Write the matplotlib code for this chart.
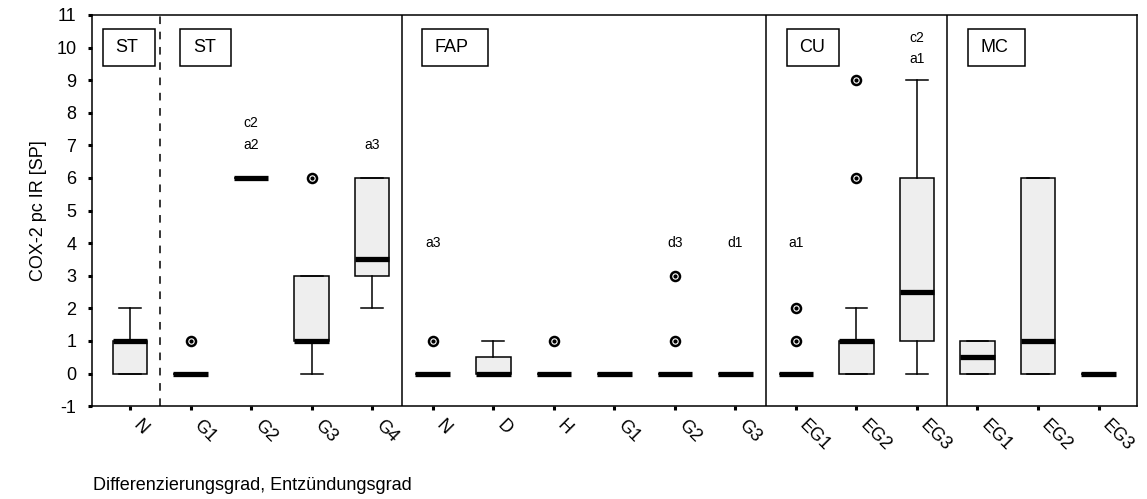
import matplotlib
matplotlib.use("Agg")
import matplotlib.pyplot as plt
from matplotlib.patches import Rectangle

plt.rcParams["font.family"] = ["Liberation Sans", "DejaVu Sans"]
plt.rcParams["axes.unicode_minus"] = False

# categories (x tick labels), left to right
LABELS = ["N", "G1", "G2", "G3", "G4",
          "N", "D", "H", "G1", "G2", "G3",
          "EG1", "EG2", "EG3",
          "EG1", "EG2", "EG3"]

# box statistics
Q1 = [0, 0, 6, 1, 3, 0, 0, 0, 0, 0, 0, 0, 0, 1, 0, 0, 0]
MED = [1, 0, 6, 1, 3.5, 0, 0, 0, 0, 0, 0, 0, 1, 2.5, 0.5, 1, 0]
Q3 = [1, 0, 6, 3, 6, 0, 0.5, 0, 0, 0, 0, 0, 1, 6, 1, 6, 0]
WHIS_LO = [0, 0, 6, 0, 2, 0, 0, 0, 0, 0, 0, 0, 0, 0, 0, 0, 0]
WHIS_HI = [2, 0, 6, 3, 6, 0, 1, 0, 0, 0, 0, 0, 2, 9, 1, 6, 0]
OUTLIERS = [[], [1], [], [6], [], [1], [], [1], [], [1, 3], [], [1, 2], [6, 9], [], [], [], []]

# significance notes: (category index, y value, text)
NOTES = [(2, 7.7, "c2"), (2, 7.0, "a2"), (4, 7.0, "a3"),
         (5, 4.0, "a3"), (9, 4.0, "d3"), (10, 4.0, "d1"),
         (11, 4.0, "a1"), (13, 10.3, "c2"), (13, 9.65, "a1")]

# group tags: (text, left x, right x)
GROUPS = [("ST", -0.45, 0.42), ("ST", 0.83, 1.66), ("FAP", 4.82, 5.91),
          ("CU", 10.85, 11.72), ("MC", 13.84, 14.78)]

SOLID_SEPS = [4.5, 10.5, 13.5]
DASHED_SEPS = [0.5]

fig = plt.figure(figsize=(11.47, 4.99), dpi=100)
ax = fig.add_axes([0.08, 0.186, 0.911, 0.784])

pos = list(range(len(LABELS)))
stats = []
for i in pos:
    stats.append(dict(q1=Q1[i], med=MED[i], q3=Q3[i], whislo=WHIS_LO[i],
                      whishi=WHIS_HI[i], fliers=OUTLIERS[i]))

ax.bxp(stats, positions=pos, widths=0.57, patch_artist=True, showfliers=False,
       capwidths=0.36,
       boxprops=dict(facecolor="#eeeeee", edgecolor="black", linewidth=1.1),
       medianprops=dict(color="black", linewidth=3.8, solid_capstyle="butt"),
       whiskerprops=dict(color="black", linewidth=1.1),
       capprops=dict(color="black", linewidth=1.1))

for i in pos:
    for v in OUTLIERS[i]:
        ax.plot(i, v, marker="o", ms=6.5, mfc="white", mec="black", mew=1.8,
                linestyle="none", zorder=4)
        ax.plot(i, v, marker="o", ms=2, color="black", linestyle="none", zorder=5)

for i, y, t in NOTES:
    ax.text(i, y, t, ha="center", va="center", fontsize=10)

for x in SOLID_SEPS:
    ax.axvline(x, color="black", lw=1.1)
for x in DASHED_SEPS:
    ax.axvline(x, color="black", lw=1.1, linestyle=(0, (5, 5)))

for name, x0, x1 in GROUPS:
    ax.add_patch(Rectangle((x0, 9.44), x1 - x0, 1.12, fill=False,
                           edgecolor="black", lw=1.1, zorder=3))
    ax.text(x0 + 0.21, 10.0, name, ha="left", va="center", fontsize=13)

ax.set_xlim(-0.633, 16.63)
ax.set_ylim(-1, 11)
ax.set_yticks(range(-1, 12))
ax.set_xticks(pos)
ax.set_xticklabels(LABELS, rotation=-45, ha="left", va="bottom",
                   rotation_mode="anchor", fontsize=13)
ax.tick_params(axis="both", direction="out", length=3, width=2.2, labelsize=13)
ax.tick_params(axis="y", pad=8)
ax.tick_params(axis="x", pad=13)
for s in ax.spines.values():
    s.set_linewidth(1.1)

ax.set_ylabel("COX-2 pc IR [SP]", fontsize=13, labelpad=7)
xl = ax.set_xlabel("Differenzierungsgrad, Entzündungsgrad", fontsize=13, loc="left")
ax.xaxis.set_label_coords(0.001, -0.202)
xl.set_va("center")

fig.savefig("out.png", dpi=100)
